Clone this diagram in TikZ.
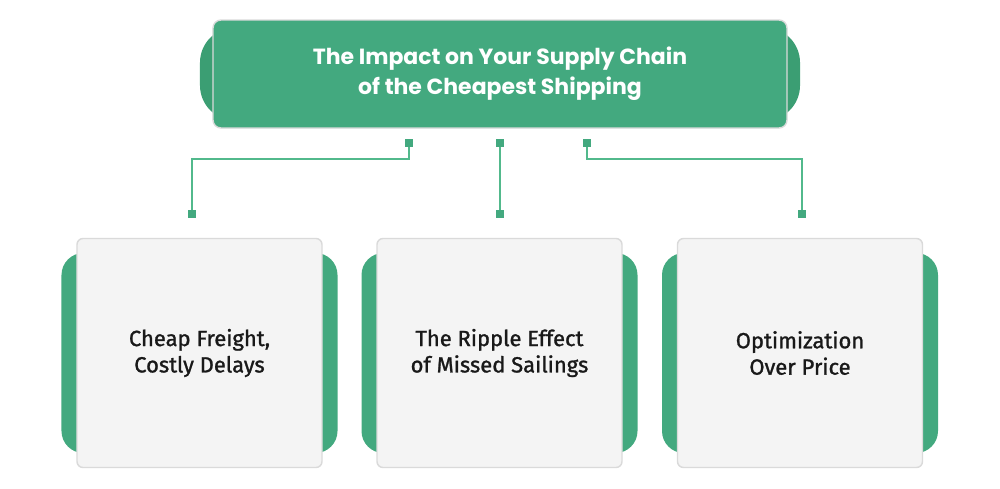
\documentclass[tikz,border=0pt]{standalone}
\usepackage{fontspec}
\setmainfont{Fira Sans}
\newfontfamily\headfont{Poppins}
\newfontfamily\cardfont[FakeBold=1.2]{Fira Sans}
\usetikzlibrary{positioning, backgrounds}
\definecolor{cgreen}{HTML}{43A97F}
\definecolor{cgreendark}{HTML}{3B9E73}
\definecolor{cline}{HTML}{52B98C}
\definecolor{ccard}{HTML}{F4F4F4}
\definecolor{cedge}{HTML}{DADADA}
\tikzset{
  every picture/.style={line width=1pt},
  tab/.style={fill=#1, rounded corners=4.4mm, minimum width=55.2mm, minimum height=40mm, inner sep=0pt},
  tab/.default=cgreen,
  head/.style={fill=cgreen, draw=cedge, line width=0.8pt, rounded corners=1.6mm, minimum width=114.8mm, minimum height=21.6mm,
    align=center, text=white, font=\headfont\bfseries\fontsize{12.5}{17}\selectfont},
  card/.style={fill=ccard, draw=cedge, line width=0.8pt, rounded corners=1.2mm, minimum width=49mm, minimum height=45.8mm,
    align=center, text=black!90, font=\cardfont\fontsize{12.5}{15}\selectfont},
  pin/.style={fill=cgreen, minimum size=1.6mm, inner sep=0pt},
  link/.style={draw=cline, line width=1.1pt},
}
\begin{document}
\begin{tikzpicture}[x=0.2mm, y=-0.2mm]
  \useasboundingbox (0,0) rectangle (1000,488);
  % title
  \node[tab=cgreendark, minimum width=120mm, minimum height=18.6mm, rounded corners=7mm] (headback) at (500,74) {};
  \node[head] (head) at (500,74) {The Impact on Your Supply Chain\\of the Cheapest Shipping};
  % three cards
  \foreach \i/\x/\txt in {1/199.5/{Cheap Freight,\\Costly Delays},
                          2/499.5/{The Ripple Effect\\of Missed Sailings},
                          3/800/{Optimization\\Over Price}} {
    \node[tab] (back\i) at (\x,353) {};
    \node[card] (card\i) at (\x,353) {\txt};
  }
  % connectors
  \node[pin] (t1) at (409,143) {};
  \node[pin] (t2) at (500,143) {};
  \node[pin] (t3) at (587,143) {};
  \node[pin] (b1) at (192,214) {};
  \node[pin] (b2) at (500,214) {};
  \node[pin] (b3) at (802,214) {};
  \begin{scope}[on background layer]
    \draw[link] (t1.center) -- ++(0,16) -| (b1.center);
    \draw[link] (t2.center) -- (b2.center);
    \draw[link] (t3.center) -- ++(0,16) -| (b3.center);
  \end{scope}
\end{tikzpicture}
\end{document}
